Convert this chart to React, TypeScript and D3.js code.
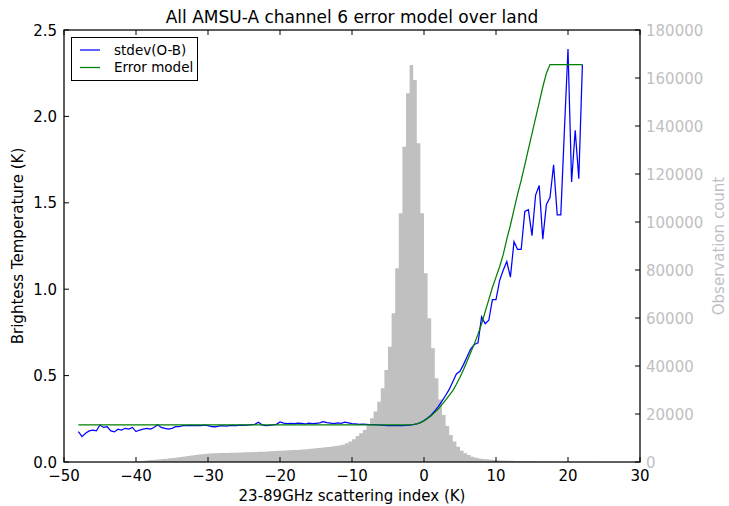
import React from "react";
import * as d3 from "d3";

// Scattering-index bins (K) for the observation histogram, 0.5 K wide.
const histEdgesStart = -40;
const histBinWidth = 0.5;
const histCounts = [
  200, 400, 550, 700, 850, 950, 1050, 1200, 1400, 1550,
  1700, 1900, 2100, 2300, 2500, 2700, 2900, 3100, 3250, 3400,
  3550, 3600, 3650, 3700, 3750, 3800, 3850, 3900, 3950, 4000,
  4050, 4100, 4150, 4200, 4250, 4300, 4400, 4500, 4550, 4650,
  4700, 4800, 4850, 4950, 5050, 5150, 5250, 5350, 5500, 5650,
  5800, 5950, 6100, 6300, 6500, 6700, 6900, 7200, 7800, 8500,
  9500, 10800, 12000, 13300, 15400, 18200, 21000, 25100, 30700, 38300,
  48000, 62000, 80700, 103600, 131400, 153600, 165400, 159200, 132800, 103600,
  78600, 59900, 47400, 34900, 26000, 19600, 15000, 11250, 8500, 6400,
  4700, 3600, 2900, 2200, 1800, 1500, 1300, 1100, 950, 830,
  740, 660, 590, 530, 480, 430, 390, 350, 320, 290,
  260, 240, 220, 200, 180, 165, 150, 140, 130, 120,
  110, 100, 90, 80, 70, 65, 60, 55, 50, 45,
  40, 35, 30, 28, 25, 22, 20, 18, 15, 12,
];

// stdev(O-B) per bin centre, from -48 K to 22 K every 0.5 K.
const stdevStart = -48;
const stdevStep = 0.5;
const stdevOB = [
  0.176, 0.147, 0.166, 0.18, 0.185, 0.18, 0.214, 0.2, 0.204, 0.18,
  0.174, 0.19, 0.185, 0.195, 0.19, 0.2, 0.176, 0.185, 0.19, 0.195,
  0.19, 0.2, 0.216, 0.2, 0.195, 0.19, 0.195, 0.204, 0.204, 0.21,
  0.21, 0.212, 0.21, 0.212, 0.21, 0.214, 0.21, 0.205, 0.204, 0.208,
  0.21, 0.208, 0.21, 0.212, 0.21, 0.214, 0.212, 0.214, 0.216, 0.218,
  0.23, 0.215, 0.21, 0.212, 0.215, 0.218, 0.232, 0.225, 0.222, 0.224,
  0.222, 0.225, 0.223, 0.22, 0.225, 0.222, 0.224, 0.226, 0.234, 0.228,
  0.225, 0.222, 0.226, 0.224, 0.23, 0.226, 0.222, 0.22, 0.218, 0.219,
  0.218, 0.217, 0.216, 0.215, 0.214, 0.212, 0.211, 0.21, 0.21, 0.21,
  0.211, 0.212, 0.214, 0.216, 0.22, 0.228, 0.24, 0.255, 0.272, 0.295,
  0.322, 0.352, 0.385, 0.42, 0.465, 0.51, 0.525, 0.565, 0.61, 0.655,
  0.68, 0.69, 0.84, 0.8, 0.82, 0.94, 0.94, 1.05, 1.11, 1.16,
  1.07, 1.275, 1.23, 1.23, 1.45, 1.46, 1.31, 1.545, 1.6, 1.29,
  1.49, 1.53, 1.72, 1.43, 1.43, 1.92, 2.39, 1.62, 1.92, 1.64,
  2.3,
];

// Error model knots (scattering index K, error K).
const modelX = [
  -48, -2, -1.5, -1, -0.5, 0, 0.5, 1, 1.5, 2, 2.5, 3, 3.5, 4, 4.5, 5, 5.5, 6,
  6.5, 7, 7.5, 8, 8.5, 9, 9.5, 10, 10.5, 11, 11.5, 12, 12.5, 13, 13.5, 14,
  14.5, 15, 15.5, 16, 16.5, 17, 17.5, 22,
];
const modelY = [
  0.215, 0.215, 0.217, 0.221, 0.228, 0.238, 0.252, 0.268, 0.287, 0.308, 0.332,
  0.358, 0.385, 0.413, 0.45, 0.49, 0.535, 0.585, 0.635, 0.685, 0.74, 0.8,
  0.87, 0.94, 1.01, 1.07, 1.13, 1.2, 1.29, 1.37, 1.46, 1.55, 1.63, 1.72,
  1.81, 1.9, 1.99, 2.08, 2.17, 2.25, 2.3, 2.3,
];

const xTicks = [-50, -40, -30, -20, -10, 0, 10, 20, 30];
const yTicks = [0, 0.5, 1.0, 1.5, 2.0, 2.5];
const countTicks = [0, 20000, 40000, 60000, 80000, 100000, 120000, 140000, 160000, 180000];

const W = 729;
const H = 506;
const M = { left: 64, right: 640, top: 30, bottom: 462 };
const FONT = "'DejaVu Sans', sans-serif";
const GREY = "#c0c0c0";
const GREY_TEXT = "#bfbfbf";

const fmtMinus = (v: number, digits = 0) => {
  const s = v.toFixed(digits);
  return v < 0 ? "\u2212" + s.slice(1) : s;
};

export default function App() {
  const x = d3.scaleLinear().domain([-50, 30]).range([M.left, M.right]);
  const y = d3.scaleLinear().domain([0, 2.5]).range([M.bottom, M.top]);
  const yc = d3.scaleLinear().domain([0, 180000]).range([M.bottom, M.top]);

  const stdevPts: [number, number][] = stdevOB.map((v, i) => [stdevStart + i * stdevStep, v]);
  const modelPts: [number, number][] = modelX.map((v, i) => [v, modelY[i]]);
  const line = d3
    .line<[number, number]>()
    .x((d) => x(d[0]))
    .y((d) => y(d[1]));

  // histogram outline as one stepped shape so adjacent bars merge seamlessly
  const histPath = d3.path();
  histPath.moveTo(x(histEdgesStart), yc(0));
  histCounts.forEach((c, i) => {
    const x0 = x(histEdgesStart + i * histBinWidth);
    const x1 = x(histEdgesStart + (i + 1) * histBinWidth);
    histPath.lineTo(x0, yc(c));
    histPath.lineTo(x1, yc(c));
  });
  histPath.lineTo(x(histEdgesStart + histCounts.length * histBinWidth), yc(0));
  histPath.closePath();

  const tick = 5;

  return (
    <svg
      width={W}
      height={H}
      style={{ position: "absolute", left: 0, top: 0, background: "#fff" }}
      fontFamily={FONT}
    >
      {/* histogram */}
      <path d={histPath.toString()} fill={GREY} stroke="none" />

      {/* lines */}
      <path d={line(stdevPts) || ""} fill="none" stroke="#0000ff" strokeWidth={1.25} />
      <path d={line(modelPts) || ""} fill="none" stroke="#008000" strokeWidth={1.25} />

      {/* frame */}
      <rect
        x={M.left}
        y={M.top}
        width={M.right - M.left}
        height={M.bottom - M.top}
        fill="none"
        stroke="#000"
        strokeWidth={1.25}
      />

      {/* x ticks */}
      {xTicks.map((t) => (
        <g key={"x" + t}>
          <line x1={x(t)} x2={x(t)} y1={M.bottom} y2={M.bottom - tick} stroke="#000" />
          <line x1={x(t)} x2={x(t)} y1={M.top} y2={M.top + tick} stroke="#000" />
          <text x={x(t)} y={481} fontSize={15} textAnchor="middle" fill="#000">
            {fmtMinus(t)}
          </text>
        </g>
      ))}

      {/* left y ticks */}
      {yTicks.map((t) => (
        <g key={"y" + t}>
          <line x1={M.left} x2={M.left + tick} y1={y(t)} y2={y(t)} stroke="#000" />
          <text x={M.left - 7} y={y(t) + 5.5} fontSize={15} textAnchor="end" fill="#000">
            {t.toFixed(1)}
          </text>
        </g>
      ))}

      {/* right y ticks */}
      {countTicks.map((t) => (
        <g key={"c" + t}>
          <line x1={M.right} x2={M.right - tick} y1={yc(t)} y2={yc(t)} stroke="#000" />
          <text x={M.right + 6} y={yc(t) + 5.5} fontSize={15} textAnchor="start" fill={GREY_TEXT}>
            {t}
          </text>
        </g>
      ))}

      {/* titles */}
      <text x={(M.left + M.right) / 2} y={23} fontSize={17} textAnchor="middle" fill="#000">
        All AMSU-A channel 6 error model over land
      </text>
      <text x={(M.left + M.right) / 2} y={501} fontSize={15} textAnchor="middle" fill="#000">
        23-89GHz scattering index (K)
      </text>
      <text
        transform={`translate(23, ${(M.top + M.bottom) / 2}) rotate(-90)`}
        fontSize={15}
        textAnchor="middle"
        fill="#000"
      >
        Brightess Temperature (K)
      </text>
      <text
        transform={`translate(724, ${(M.top + M.bottom) / 2}) rotate(-90)`}
        fontSize={15}
        textAnchor="middle"
        fill={GREY_TEXT}
      >
        Observation count
      </text>

      {/* legend */}
      <g>
        <rect x={71.5} y={37.5} width={126} height={43} fill="#fff" stroke="#000" strokeWidth={1} />
        <line x1={80} x2={100} y1={50} y2={50} stroke="#0000ff" strokeWidth={1.25} />
        <text x={114} y={54.5} fontSize={13.5} fill="#000">
          stdev(O-B)
        </text>
        <line x1={80} x2={100} y1={67.5} y2={67.5} stroke="#008000" strokeWidth={1.25} />
        <text x={114} y={72} fontSize={13.5} fill="#000">
          Error model
        </text>
      </g>
    </svg>
  );
}
